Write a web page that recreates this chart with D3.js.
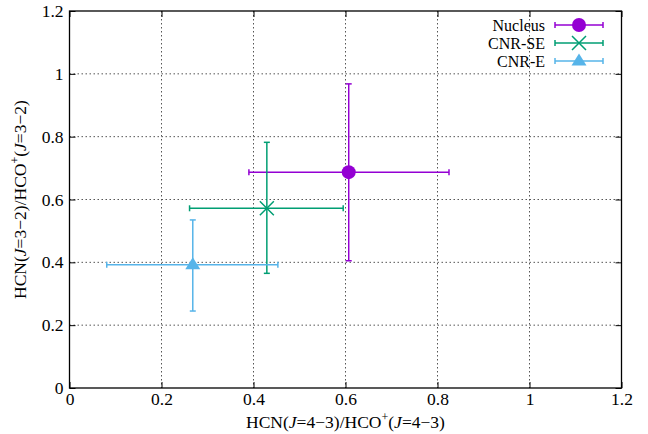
<!DOCTYPE html>
<html>
<head>
<meta charset="utf-8">
<script src="https://cdn.jsdelivr.net/npm/d3@7"></script>
<style>
  body { margin: 0; background: #fff; }
</style>
</head>
<body>
<div id="wrapper"></div>
<script>
// data
const names = ['Nucleus', 'CNR-SE', 'CNR-E']
const xVals = [0.607, 0.429, 0.268]
const xLow = [0.390, 0.261, 0.081]
const xHigh = [0.825, 0.595, 0.453]
const yVals = [0.687, 0.572, 0.392]
const yLow = [0.405, 0.365, 0.245]
const yHigh = [0.968, 0.782, 0.535]
const colors = ['#9400d3', '#009e73', '#56b4e9']
const symbols = ['circle', 'cross', 'triangle']
const ticks = [0, 0.2, 0.4, 0.6, 0.8, 1, 1.2]

const fontFamily = "'Liberation Serif', 'DejaVu Serif', serif"
const fontSize = '17.5px'

const dataset = names.map((n, i) => ({
  name: n, x: xVals[i], x0: xLow[i], x1: xHigh[i],
  y: yVals[i], y0: yLow[i], y1: yHigh[i],
  color: colors[i], symbol: symbols[i]
}))

let dimensions = {
  width: 648,
  height: 434,
  margin: { top: 11, right: 26.5, bottom: 46, left: 69.5 },
}
dimensions.boundedWidth = dimensions.width - dimensions.margin.left - dimensions.margin.right
dimensions.boundedHeight = dimensions.height - dimensions.margin.top - dimensions.margin.bottom

const wrapper = d3.select('#wrapper')
  .append('svg')
  .attr('width', dimensions.width)
  .attr('height', dimensions.height)

const bounds = wrapper.append('g')
  .attr('transform', `translate(${dimensions.margin.left},${dimensions.margin.top})`)

const xScale = d3.scaleLinear().domain([0, 1.2]).range([0, dimensions.boundedWidth])
const yScale = d3.scaleLinear().domain([0, 1.2]).range([dimensions.boundedHeight, 0])

// grid (dotted), skip the border values
const inner = ticks.slice(1, -1)
bounds.append('g').selectAll('line')
  .data(inner).enter().append('line')
  .attr('x1', d => xScale(d)).attr('x2', d => xScale(d))
  .attr('y1', 0).attr('y2', dimensions.boundedHeight)
  .attr('stroke', '#555').attr('stroke-width', 1)
  .attr('stroke-dasharray', '1.5 2.5')
bounds.append('g').selectAll('line')
  .data(inner).enter().append('line')
  .attr('y1', d => yScale(d)).attr('y2', d => yScale(d))
  .attr('x1', 0).attr('x2', dimensions.boundedWidth)
  .attr('stroke', '#555').attr('stroke-width', 1)
  .attr('stroke-dasharray', '1.5 2.5')

// axes with inward ticks on all four sides
const tickFmt = d => d3.format('~g')(d)
const xAxis = bounds.append('g')
  .attr('transform', `translate(0,${dimensions.boundedHeight})`)
  .call(d3.axisBottom(xScale).tickValues(ticks).tickFormat(tickFmt).tickSizeInner(-6).tickSizeOuter(0).tickPadding(4))
const xAxisTop = bounds.append('g')
  .call(d3.axisTop(xScale).tickValues(ticks).tickFormat('').tickSizeInner(-6).tickSizeOuter(0))
const yAxis = bounds.append('g')
  .call(d3.axisLeft(yScale).tickValues(ticks).tickFormat(tickFmt).tickSizeInner(-6).tickSizeOuter(0).tickPadding(6))
const yAxisRight = bounds.append('g')
  .attr('transform', `translate(${dimensions.boundedWidth},0)`)
  .call(d3.axisRight(yScale).tickValues(ticks).tickFormat('').tickSizeInner(-6).tickSizeOuter(0))

;[xAxis, xAxisTop, yAxis, yAxisRight].forEach(a => {
  a.attr('font-family', null).attr('font-size', null)
  a.select('.domain').remove()
  a.selectAll('line').attr('stroke', '#000').attr('stroke-width', 1)
  a.selectAll('text').attr('fill', '#000').style('font-size', fontSize)
})
xAxis.selectAll('text').attr('dy', '0.72em')

bounds.append('rect')
  .attr('width', dimensions.boundedWidth)
  .attr('height', dimensions.boundedHeight)
  .attr('fill', 'none')
  .attr('stroke', '#000')
  .attr('stroke-width', 1.3)

// axis labels
const xLabel = wrapper.append('text')
  .attr('x', dimensions.margin.left + dimensions.boundedWidth / 2)
  .attr('y', 428)
  .style('text-anchor', 'middle')
  .style('font-size', fontSize)
xLabel.append('tspan').text('HCN(')
xLabel.append('tspan').style('font-style', 'italic').text('J')
xLabel.append('tspan').text('=4\u22123)/HCO')
xLabel.append('tspan').attr('dy', -7).style('font-size', '12px').text('+')
xLabel.append('tspan').attr('dy', 7).text('(')
xLabel.append('tspan').style('font-style', 'italic').text('J')
xLabel.append('tspan').text('=4\u22123)')

const yLabel = wrapper.append('text')
  .attr('transform', `translate(26,${dimensions.margin.top + dimensions.boundedHeight / 2}) rotate(-90)`)
  .style('text-anchor', 'middle')
  .style('font-size', fontSize)
yLabel.append('tspan').text('HCN(')
yLabel.append('tspan').style('font-style', 'italic').text('J')
yLabel.append('tspan').text('=3\u22122)/HCO')
yLabel.append('tspan').attr('dy', -7).style('font-size', '12px').text('+')
yLabel.append('tspan').attr('dy', 7).text('(')
yLabel.append('tspan').style('font-style', 'italic').text('J')
yLabel.append('tspan').text('=3\u22122)')

// markers
function drawMarker(g, type, cx, cy, color) {
  if (type === 'circle') {
    g.append('circle').attr('cx', cx).attr('cy', cy).attr('r', 7).attr('fill', color)
  } else if (type === 'cross') {
    const s = 7
    g.append('path')
      .attr('d', `M${cx - s},${cy - s}L${cx + s},${cy + s}M${cx - s},${cy + s}L${cx + s},${cy - s}`)
      .attr('stroke', color).attr('stroke-width', 1.5).attr('fill', 'none')
  } else {
    const s = 7.5
    g.append('path')
      .attr('d', `M${cx},${cy - s}L${cx + s},${cy + s * 0.6}L${cx - s},${cy + s * 0.6}Z`)
      .attr('fill', color)
  }
}

const cap = 3
const pointGroups = bounds.selectAll('.pt')
  .data(dataset).enter().append('g').attr('class', 'pt')

pointGroups.each(function (d) {
  const g = d3.select(this)
  const cx = xScale(d.x), cy = yScale(d.y)
  const lines = [
    [xScale(d.x0), cy, xScale(d.x1), cy],
    [xScale(d.x0), cy - cap, xScale(d.x0), cy + cap],
    [xScale(d.x1), cy - cap, xScale(d.x1), cy + cap],
    [cx, yScale(d.y0), cx, yScale(d.y1)],
    [cx - cap, yScale(d.y0), cx + cap, yScale(d.y0)],
    [cx - cap, yScale(d.y1), cx + cap, yScale(d.y1)],
  ]
  lines.forEach(l => g.append('line')
    .attr('x1', l[0]).attr('y1', l[1]).attr('x2', l[2]).attr('y2', l[3])
    .attr('stroke', d.color).attr('stroke-width', 1.5))
  drawMarker(g, d.symbol, cx, cy, d.color)
})

// legend
const legend = wrapper.append('g')
dataset.forEach((d, i) => {
  const y = 25 + i * 18
  const g = legend.append('g')
  g.append('text')
    .attr('x', 545).attr('y', y).attr('dy', '0.35em')
    .style('text-anchor', 'end').style('font-size', '16px')
    .text(d.name)
  g.append('line').attr('x1', 555).attr('x2', 603).attr('y1', y).attr('y2', y)
    .attr('stroke', d.color).attr('stroke-width', 1.5)
  g.append('line').attr('x1', 555).attr('x2', 555).attr('y1', y - cap).attr('y2', y + cap)
    .attr('stroke', d.color).attr('stroke-width', 1.5)
  g.append('line').attr('x1', 603).attr('x2', 603).attr('y1', y - cap).attr('y2', y + cap)
    .attr('stroke', d.color).attr('stroke-width', 1.5)
  drawMarker(g, d.symbol, 579, y, d.color)
})

// serif everywhere
wrapper.selectAll('text').style('font-family', fontFamily)
</script>
</body>
</html>
